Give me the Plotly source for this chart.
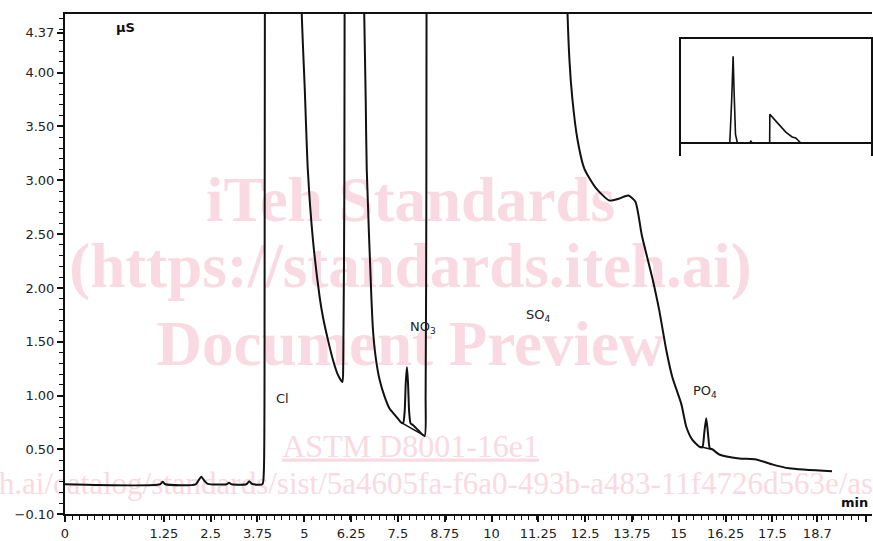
import plotly.graph_objects as go

# ---------------- data ----------------
# main chromatogram: retention time (min, axis scale) and conductivity (µS)
time_min = [
    -1.40, 1.15, 1.22, 1.29, 2.10, 2.18, 2.25, 2.33, 2.42, 2.92, 2.99, 3.06,
    3.45, 3.53, 3.60, 3.88, 3.92, 3.94, 3.95, 3.96,
    4.85, 4.88, 4.933, 5.013, 5.093, 5.227, 5.413, 5.501, 5.635, 5.768, 5.901,
    6.019, 6.04, 6.07, 6.08, 6.09,
    6.54, 6.56, 6.64, 6.667, 6.792, 6.835, 6.907, 7.013, 7.147, 7.28, 7.459, 7.592,
    7.64, 7.68, 7.71, 7.741, 7.77, 7.80, 7.84, 7.90, 8.035, 8.213, 8.24, 8.26, 8.267,
    8.277,
    11.99, 12.00, 12.08, 12.16, 12.293, 12.48, 12.8, 13.147, 13.413, 13.653, 13.84,
    14.013, 14.293, 14.48, 14.667, 14.827, 15.067, 15.2, 15.36, 15.547,
    15.63, 15.68, 15.733, 15.78, 15.83, 15.90, 16.08, 16.613, 17.067, 17.493,
    17.947, 19.093,
]
signal_uS = [
    0.176, 0.176, 0.200, 0.176, 0.176, 0.215, 0.245, 0.210, 0.180, 0.176, 0.190, 0.176,
    0.176, 0.205, 0.180, 0.176, 0.300, 2.000, 6.000, 12.000,
    12.000, 6.000, 4.545, 3.845, 3.107, 2.462, 1.909, 1.725, 1.513, 1.329, 1.190,
    1.126, 1.300, 3.000, 6.000, 12.000,
    12.000, 5.500, 3.753, 3.107, 1.909, 1.605, 1.356, 1.144, 0.988, 0.877, 0.803, 0.748,
    0.745, 0.850, 1.120, 1.264, 1.120, 0.850, 0.740, 0.727, 0.681, 0.625, 1.000, 3.000,
    6.000, 12.000,
    12.000, 5.000, 4.121, 3.753, 3.384, 3.107, 2.923, 2.812, 2.831, 2.858, 2.803,
    2.490, 2.094, 1.789, 1.421, 1.172, 0.923, 0.711, 0.591, 0.527,
    0.520, 0.650, 0.790, 0.650, 0.510, 0.500, 0.453, 0.416, 0.407, 0.361,
    0.324, 0.296,
]
# integration baselines drawn under NO3 and PO4
no3_base_t = [7.592, 8.213]
no3_base_y = [0.748, 0.625]
po4_base_t = [15.547, 15.90]
po4_base_y = [0.527, 0.500]

# inset: full-scale overview (relative units)
inset_t = [0.0, 5.15, 5.35, 5.50, 5.60, 5.75, 5.95, 7.25, 7.37, 7.50,
           9.35, 9.37, 9.82, 10.35, 11.05, 11.72, 12.10, 12.63, 20.0]
inset_y = [0.0, 0.0, 0.5, 1.0, 0.6, 0.1, 0.0, 0.0, 0.02, 0.0,
           0.0, 0.332, 0.275, 0.206, 0.126, 0.069, 0.057, 0.0, 0.0]

# axes ticks
x_tick_vals = [1.25, 2.5, 3.75, 5, 6.25, 7.5, 8.75, 10, 11.25, 12.5, 13.75, 15,
               16.25, 17.5, 18.7, 20]
x_tick_text = ["1.25", "2.5", "3.75", "5", "6.25", "7.5", "8.75", "10", "11.25",
               "12.5", "13.75", "15", "16.25", "17.5", "18.7", "20"]
y_tick_vals = [-0.10, 0.50, 1.00, 1.50, 2.00, 2.50, 3.00, 3.50, 4.00, 4.37]
y_tick_text = ["\u22120.10", "0.50", "1.00", "1.50", "2.00", "2.50", "3.00",
               "3.50", "4.00", "4.37"]

peak_names = ["Cl", "NO<sub>3</sub>", "SO<sub>4</sub>", "PO<sub>4</sub>"]
peak_label_t = [4.43, 8.16, 11.23, 15.71]
peak_label_y = [0.97, 1.63, 1.74, 1.04]

watermark_lines = [
    "<b>iTeh Standards</b>",
    "<b>(https://standards.iteh.ai)</b>",
    "<b>Document Preview</b>",
    "<u>ASTM D8001-16e1</u>",
    "https://standards.iteh.ai/catalog/standards/sist/5a4605fa-f6a0-493b-a483-11f4726d563e/astm-d8001-16e1",
]

# ---------------- figure ----------------
W, H = 873, 541
ML, MR, MT, MB = 65, 0, 14, 23
X_MIN, X_MAX = -1.39, 20.16
Y_MIN, Y_MAX = -0.10, 4.545

def px_to_paper_x(px):
    return (px - ML) / (W - ML - MR)

def py_to_paper_y(py):
    return (H - MB - py) / (H - MT - MB)

def px_to_data_x(px):
    return X_MIN + (X_MAX - X_MIN) * px_to_paper_x(px)

def py_to_data_y(py):
    return Y_MIN + (Y_MAX - Y_MIN) * py_to_paper_y(py)

fig = go.Figure()

# watermark (drawn first, beneath the chromatogram)
wm_color = "#f9dae3"
wm_serif = "Liberation Serif, Times New Roman, serif"
wm_py = [207, 273, 352, 452, 490]
wm_size = [63, 63, 63, 32, 31]
for txt, py, size in zip(watermark_lines, wm_py, wm_size):
    fig.add_trace(go.Scatter(
        x=[px_to_data_x(411)], y=[py_to_data_y(py)], mode="text", text=[txt],
        textposition="middle center", cliponaxis=False, hoverinfo="skip",
        textfont=dict(family=wm_serif, size=size, color=wm_color)))

line_style = dict(color="#111111", width=2, shape="spline", smoothing=0.6)
fig.add_trace(go.Scatter(x=time_min, y=signal_uS, mode="lines", line=line_style,
                         hoverinfo="skip"))
fig.add_trace(go.Scatter(x=no3_base_t, y=no3_base_y, mode="lines",
                         line=dict(color="#111111", width=1.5), hoverinfo="skip"))
fig.add_trace(go.Scatter(x=po4_base_t, y=po4_base_y, mode="lines",
                         line=dict(color="#111111", width=1.5), hoverinfo="skip"))
fig.add_trace(go.Scatter(x=inset_t, y=inset_y, mode="lines", xaxis="x2", yaxis="y2",
                         line=dict(color="#111111", width=1.6), hoverinfo="skip"))

font_axis = dict(family="DejaVu Sans, Verdana, sans-serif", size=13, color="#222222")

tick_x_all = [X_MIN] + x_tick_vals
tick_x_text = ["0"] + x_tick_text

fig.update_layout(
    width=W, height=H,
    margin=dict(l=ML, r=MR, t=MT, b=MB, pad=0),
    paper_bgcolor="white", plot_bgcolor="white",
    showlegend=False,
    xaxis=dict(
        range=[X_MIN, X_MAX], showgrid=False, zeroline=False,
        showline=True, linecolor="#111111", linewidth=2, mirror=True,
        ticks="outside", ticklen=6, tickwidth=1.5, tickcolor="#111111",
        tickmode="array", tickvals=tick_x_all, ticktext=tick_x_text,
        tickfont=font_axis,
        minor=dict(ticks="outside", ticklen=4, tickwidth=1.3, tickcolor="#111111",
                   dtick=0.2, tick0=0, showgrid=False),
    ),
    yaxis=dict(
        range=[Y_MIN, Y_MAX], showgrid=False, zeroline=False,
        showline=True, linecolor="#111111", linewidth=2, mirror=False,
        ticks="outside", ticklen=6, tickwidth=1.5, tickcolor="#111111",
        tickmode="array", tickvals=y_tick_vals, ticktext=y_tick_text,
        tickfont=font_axis,
        minor=dict(ticks="outside", ticklen=4, tickwidth=1.3, tickcolor="#111111",
                   dtick=0.1, tick0=0, showgrid=False),
    ),
    xaxis2=dict(
        domain=[px_to_paper_x(681.7), px_to_paper_x(871.7)], anchor="y2",
        range=[0, 20], showgrid=False, zeroline=False, showticklabels=False,
        ticks="", showline=True, side="top", linecolor="#111111", linewidth=2,
    ),
    yaxis2=dict(
        domain=[py_to_paper_y(157), py_to_paper_y(39.3)], anchor="x2",
        range=[-0.149, 1.199], showgrid=False, showticklabels=False, ticks="",
        zeroline=True, zerolinecolor="#111111", zerolinewidth=2,
        showline=True, mirror=True, linecolor="#111111", linewidth=2,
    ),
)

annotations = []
label_font = dict(family="DejaVu Sans, Verdana, sans-serif", size=13, color="#222222")
for name, t, y in zip(peak_names, peak_label_t, peak_label_y):
    annotations.append(dict(text=name, x=t, y=y, xref="x", yref="y", showarrow=False,
                            xanchor="center", yanchor="middle", font=label_font))

annotations.append(dict(text="<b>µS</b>", x=px_to_paper_x(114), y=py_to_paper_y(28),
                        xref="paper", yref="paper", showarrow=False,
                        xanchor="left", yanchor="middle",
                        font=dict(family="DejaVu Sans, Verdana, sans-serif", size=13,
                                  color="#111111")))
annotations.append(dict(text="<b>min</b>", x=px_to_paper_x(840), y=py_to_paper_y(506),
                        xref="paper", yref="paper", showarrow=False,
                        xanchor="left", yanchor="middle",
                        font=dict(family="DejaVu Sans, Verdana, sans-serif", size=13,
                                  color="#111111")))

fig.update_layout(annotations=annotations)
fig.write_html("out.html", config={"displayModeBar": False},
               post_script="document.body.style.margin='0';document.body.style.overflow='hidden';")
